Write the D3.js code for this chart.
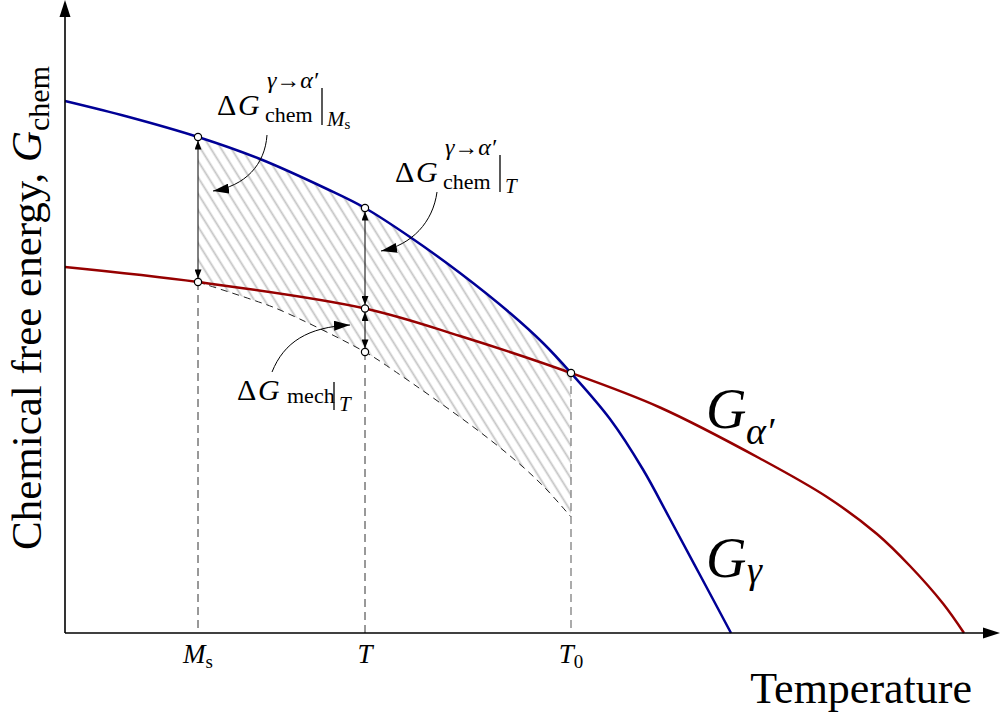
<!DOCTYPE html>
<html><head><meta charset="utf-8">
<script src="https://cdn.jsdelivr.net/npm/d3@7"></script>
<style>body{margin:0;background:#fff}svg{display:block}</style>
</head><body>
<svg id="c" width="1000" height="714"></svg>
<script>
// ---- data (temperature, free energy in arbitrary units) ----
const gammaT = [0, 0.62, 1.33, 1.95, 2.62, 3.00, 3.45, 3.95, 4.45, 4.78, 5.06, 5.45, 5.78, 6.05, 6.35, 6.66];
const gammaG = [5.32, 5.165, 4.96, 4.74, 4.44, 4.25, 3.96, 3.60, 3.20, 2.90, 2.60, 2.14, 1.635, 1.14, 0.58, 0.00];
const alphaT = [0, 1.33, 3.00, 3.95, 5.06, 5.95, 6.95, 7.62, 8.12, 8.45, 8.78, 8.99];
const alphaG = [3.66, 3.51, 3.245, 2.97, 2.60, 2.255, 1.745, 1.36, 0.99, 0.67, 0.295, 0.00];
const mechT = [1.33, 1.88, 2.15, 3.00, 3.28, 4.15, 4.58, 4.82, 5.06];
const mechG = [3.51, 3.33, 3.23, 2.81, 2.63, 2.01, 1.66, 1.43, 1.16];
const tickTemps = [1.33, 3.00, 5.06];
const tickMain = ["M", "T", "T"];
const tickSub = ["s", "", "0"];

const FONT = "'Liberation Serif','Times New Roman','DejaVu Serif',serif";
const BLUE = "#000096", RED = "#960000";

const svg = d3.select("#c");
const x = d3.scaleLinear().domain([0, 9.33]).range([65, 998]);
const y = d3.scaleLinear().domain([0, 6.33]).range([633, 0]);

const gamma = gammaT.map((t, i) => [t, gammaG[i]]);
const alpha = alphaT.map((t, i) => [t, alphaG[i]]);
const mech = mechT.map((t, i) => [t, mechG[i]]);
const at = (T, G, t) => G[T.indexOf(t)];
const [Ms, Tt, T0] = tickTemps;

const curve = d3.curveCatmullRom.alpha(0.5);
const line = d3.line().x(d => x(d[0])).y(d => y(d[1])).curve(curve);

const defs = svg.append("defs");
const pat = defs.append("pattern").attr("id", "hatch").attr("patternUnits", "userSpaceOnUse")
  .attr("width", 8.7).attr("height", 20).attr("patternTransform", "rotate(-32)");
pat.append("line").attr("x1", 4.35).attr("x2", 4.35).attr("y1", -2).attr("y2", 22)
  .attr("stroke", "#c4c4c4").attr("stroke-width", 1.8);
defs.append("clipPath").attr("id", "underBlue").append("path")
  .attr("d", d3.area().x(d => x(d[0])).y0(y(0)).y1(d => y(d[1])).curve(curve)(gamma));
function marker(id, len, w) {
  defs.append("marker").attr("id", id).attr("markerUnits", "userSpaceOnUse")
    .attr("viewBox", `0 ${-w / 2} ${len} ${w}`).attr("refX", len).attr("refY", 0)
    .attr("markerWidth", len).attr("markerHeight", w).attr("orient", "auto-start-reverse")
    .append("path").attr("d", `M0,${-w / 2}L${len},0L0,${w / 2}Z`).attr("fill", "#000");
}
marker("small", 9, 7);
marker("big", 16, 10);

// hatched region between G_gamma and mechanical bound
svg.append("path")
  .attr("d", line(mech) + `L${x(T0)},0L${x(Ms)},0Z`)
  .attr("fill", "url(#hatch)").attr("clip-path", "url(#underBlue)");

// dashed guides
svg.append("path").attr("d", line(mech)).attr("fill", "none").attr("stroke", "#222")
  .attr("stroke-width", 1).attr("stroke-dasharray", "7,5");
const guides = [[Ms, at(mechT, mechG, Ms), "#333"], [Tt, at(mechT, mechG, Tt), "#333"], [T0, at(gammaT, gammaG, T0), "#888"]];
svg.selectAll(".guide").data(guides).join("line").attr("class", "guide")
  .attr("x1", d => x(d[0])).attr("x2", d => x(d[0])).attr("y1", d => y(d[1])).attr("y2", y(0))
  .attr("stroke", d => d[2]).attr("stroke-width", d => d[2] === "#888" ? 1.4 : 1).attr("stroke-dasharray", "8,5");

// curves
svg.append("path").attr("d", line(alpha)).attr("fill", "none").attr("stroke", RED).attr("stroke-width", 2.5);
svg.append("path").attr("d", line(gamma)).attr("fill", "none").attr("stroke", BLUE).attr("stroke-width", 2.5);

// vertical double arrows
const r = 3.6;
const spans = [
  [Ms, at(gammaT, gammaG, Ms), at(alphaT, alphaG, Ms)],
  [Tt, at(gammaT, gammaG, Tt), at(alphaT, alphaG, Tt)],
  [Tt, at(alphaT, alphaG, Tt), at(mechT, mechG, Tt)]
];
svg.selectAll(".span").data(spans).join("line").attr("class", "span")
  .attr("x1", d => x(d[0])).attr("x2", d => x(d[0]))
  .attr("y1", d => y(d[1]) + r).attr("y2", d => y(d[2]) - r)
  .attr("stroke", "#000").attr("stroke-width", 1)
  .attr("marker-start", "url(#small)").attr("marker-end", "url(#small)");

// points
const pts = [
  [Ms, at(gammaT, gammaG, Ms)], [Ms, at(alphaT, alphaG, Ms)],
  [Tt, at(gammaT, gammaG, Tt)], [Tt, at(alphaT, alphaG, Tt)], [Tt, at(mechT, mechG, Tt)],
  [T0, at(gammaT, gammaG, T0)]
];
svg.selectAll(".pt").data(pts).join("circle").attr("class", "pt")
  .attr("cx", d => x(d[0])).attr("cy", d => y(d[1])).attr("r", r)
  .attr("fill", "#fff").attr("stroke", "#000").attr("stroke-width", 1.2);

// axes
const axisG = svg.append("g");
axisG.append("line").attr("x1", x(0)).attr("x2", 986).attr("y1", y(0)).attr("y2", y(0)).attr("stroke", "#000").attr("stroke-width", 1.6);
axisG.append("line").attr("x1", x(0)).attr("x2", x(0)).attr("y1", y(0)).attr("y2", 14).attr("stroke", "#000").attr("stroke-width", 1.6);
axisG.append("path").attr("d", `M1000,${y(0)}L983,${y(0) - 5.5}L983,${y(0) + 5.5}Z`);
axisG.append("path").attr("d", `M${x(0)},0L${x(0) - 5.5},17L${x(0) + 5.5},17Z`);

// text helpers
function txt(g, px, py, size, italic) {
  return g.append("text").attr("x", px).attr("y", py).attr("font-family", FONT)
    .attr("font-size", size).attr("font-style", italic ? "italic" : "normal");
}

// tick labels
tickTemps.forEach((t, i) => {
  const tx = txt(svg, x(t), 663, 27, true).attr("text-anchor", "middle");
  tx.append("tspan").text(tickMain[i]);
  if (tickSub[i]) tx.append("tspan").attr("dy", 5).attr("font-style", "normal").attr("font-size", 19).text(tickSub[i]);
});

// axis titles
txt(svg, 972, 703, 44, false).attr("text-anchor", "end").text("Temperature");
const yl = svg.append("text").attr("transform", "translate(41,308) rotate(-90)").attr("text-anchor", "middle")
  .attr("font-family", FONT).attr("font-size", 43);
yl.append("tspan").text("Chemical free energy, ");
yl.append("tspan").attr("font-style", "italic").text("G");
yl.append("tspan").attr("dy", 8).attr("font-size", 30).text("chem");

// curve labels
txt(svg, 706, 428, 56, true).text("G");
txt(svg, 746, 444, 38, true).text("α′");
txt(svg, 706, 577, 56, true).text("G");
txt(svg, 747, 583, 38, true).text("γ");

// Δ annotations
function deltaLabel(x0, yb, withSup, sub, barSub, barSubSub) {
  const g = svg.append("g");
  txt(g, x0, yb, 30, false).text("Δ");
  txt(g, x0 + 21, yb, 30, true).text("G");
  let barX;
  if (withSup) {
    const s = txt(g, x0 + 50, yb - 27, 24, true).attr("textLength", 51).attr("lengthAdjust", "spacing");
    s.append("tspan").text("γ");
    s.append("tspan").attr("font-style", "normal").text("→");
    s.append("tspan").text("α′");
    txt(g, x0 + 48, yb + 7, 22, false).text(sub);
    barX = x0 + 105;
    g.append("line").attr("x1", barX).attr("x2", barX).attr("y1", yb - 27).attr("y2", yb + 10).attr("stroke", "#000").attr("stroke-width", 1.3);
  } else {
    txt(g, x0 + 50, yb + 3, 22, false).text(sub);
    barX = x0 + 97;
    g.append("line").attr("x1", barX).attr("x2", barX).attr("y1", yb - 18).attr("y2", yb + 10).attr("stroke", "#000").attr("stroke-width", 1.3);
  }
  const b = txt(g, barX + 5, yb + 11, 21, true);
  b.append("tspan").text(barSub);
  if (barSubSub) b.append("tspan").attr("dy", 3).attr("font-style", "normal").attr("font-size", 15).text(barSubSub);
}
deltaLabel(217, 115, true, "chem", "M", "s");
deltaLabel(395, 182, true, "chem", "T", "");
deltaLabel(237, 400, false, "mech", "T", "");

// curved pointer arrows
const pointers = [
  [[267, 135], [265, 165], [245, 186], [213, 191]],
  [[437, 192], [433, 222], [412, 245], [381, 251]],
  [[272, 372], [284, 342], [308, 327], [350, 325]]
];
pointers.forEach(p => {
  const pa = d3.path();
  pa.moveTo(...p[0]); pa.bezierCurveTo(...p[1], ...p[2], ...p[3]);
  svg.append("path").attr("d", pa.toString()).attr("fill", "none").attr("stroke", "#000")
    .attr("stroke-width", 1).attr("marker-end", "url(#big)");
});
</script>
</body></html>
